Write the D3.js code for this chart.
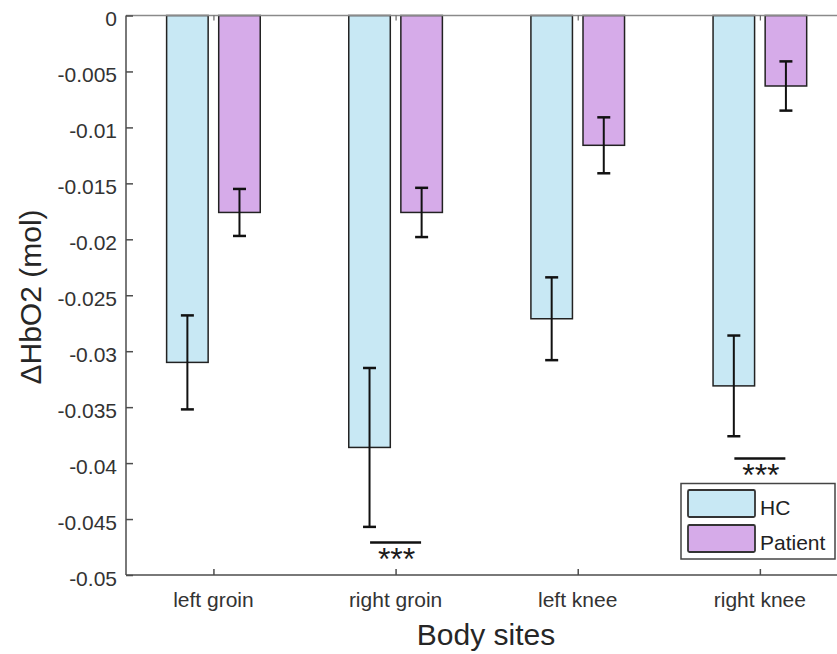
<!DOCTYPE html>
<html>
<head>
<meta charset="utf-8">
<script src="https://cdn.jsdelivr.net/npm/d3@7"></script>
<style>
  html, body { margin: 0; padding: 0; background: #fff; }
  svg { display: block; font-family: "Liberation Sans", Arial, Helvetica, sans-serif; }
</style>
</head>
<body>
<svg id="chart" width="837" height="654"></svg>
<script>
// Oxyhaemoglobin change per body site, healthy controls vs patients (mean ± SE)
const categories = ["left groin", "right groin", "left knee", "right knee"];
const seriesNames = ["HC", "Patient"];
const hcMean = [-0.0310, -0.0386, -0.0271, -0.0331];
const hcErr = [0.0042, 0.0071, 0.0037, 0.0045];
const patientMean = [-0.0176, -0.0176, -0.0116, -0.0063];
const patientErr = [0.0021, 0.0022, 0.0025, 0.0022];
const yTicks = [0, -0.005, -0.01, -0.015, -0.02, -0.025, -0.03, -0.035, -0.04, -0.045, -0.05];
const yTickLabels = ["0", "-0.005", "-0.01", "-0.015", "-0.02", "-0.025", "-0.03", "-0.035", "-0.04", "-0.045", "-0.05"];
// significance brackets: category index, vertical position, label
const sigSites = [1, 3];
const sigLevel = [-0.0471, -0.0396];
const sigText = ["***", "***"];

const colors = ["#c8e8f4", "#d6abe9"];
const series = [
  { name: seriesNames[0], mean: hcMean, err: hcErr, offset: -0.143, color: colors[0] },
  { name: seriesNames[1], mean: patientMean, err: patientErr, offset: 0.143, color: colors[1] }
];

const svg = d3.select("#chart");
const mLeft = 126, mTop = 15.5, mBottom = 575, mRight = 847.3;

const x = d3.scaleLinear().domain([0.52, 4.48]).range([mLeft, mRight]);
const y = d3.scaleLinear().domain([-0.05, 0]).range([mBottom, mTop]);
const barW = 0.228;

const plot = svg.append("g");

// bars
series.forEach(s => {
  plot.append("g").selectAll("rect")
    .data(s.mean)
    .join("rect")
    .attr("x", (d, i) => x(i + 1 + s.offset - barW / 2))
    .attr("width", x(1 + barW) - x(1))
    .attr("y", y(0))
    .attr("height", d => y(d) - y(0))
    .attr("fill", s.color)
    .attr("stroke", "#222")
    .attr("stroke-width", 1.5);
});

// error bars
series.forEach(s => {
  const g = plot.append("g").attr("stroke", "#111").attr("stroke-width", 2).attr("fill", "none");
  s.mean.forEach((m, i) => {
    const cx = x(i + 1 + s.offset);
    const y1 = y(m + s.err[i]), y2 = y(m - s.err[i]);
    g.append("line").attr("x1", cx).attr("x2", cx).attr("y1", y1).attr("y2", y2);
    g.append("line").attr("x1", cx - 6.5).attr("x2", cx + 6.5).attr("y1", y1).attr("y2", y1).attr("stroke-width", 2.5);
    g.append("line").attr("x1", cx - 6.5).attr("x2", cx + 6.5).attr("y1", y2).attr("y2", y2).attr("stroke-width", 2.5);
  });
});

// significance markers
sigSites.forEach((c, k) => {
  const cx = x(c + 1);
  plot.append("line")
    .attr("x1", x(c + 1 - 0.14)).attr("x2", x(c + 1 + 0.14))
    .attr("y1", y(sigLevel[k])).attr("y2", y(sigLevel[k]))
    .attr("stroke", "#111").attr("stroke-width", 2.5);
  plot.append("text")
    .attr("x", cx + 1).attr("y", y(sigLevel[k]) + 27)
    .attr("text-anchor", "middle")
    .attr("font-size", 32)
    .attr("fill", "#1a1a1a")
    .text(sigText[k]);
});

// axes frame
const axisColor = "#4d4d4d";
svg.append("line").attr("x1", mLeft).attr("x2", mRight).attr("y1", mTop).attr("y2", mTop)
  .attr("stroke", "#8a8a8a").attr("stroke-width", 1.5);

const yAxis = d3.axisRight(y).tickValues(yTicks).tickSize(7).tickFormat("");
const gy = svg.append("g").attr("transform", `translate(${mLeft},0)`).call(yAxis);
gy.select(".domain").remove();
gy.selectAll(".tick line").attr("stroke", axisColor).attr("stroke-width", 1.5);
svg.append("line").attr("x1", mLeft).attr("x2", mLeft).attr("y1", mTop).attr("y2", mBottom)
  .attr("stroke", axisColor).attr("stroke-width", 1.5);

// y tick labels
svg.append("g").selectAll("text")
  .data(yTicks)
  .join("text")
  .attr("x", 117)
  .attr("y", d => y(d) + 10.5)
  .attr("text-anchor", "end")
  .attr("font-size", 21)
  .attr("fill", "#333")
  .text((d, i) => yTickLabels[i]);

// x axis
const xAxis = d3.axisTop(x).tickValues([1, 2, 3, 4]).tickSize(6).tickFormat("");
const gx = svg.append("g").attr("transform", `translate(0,${mBottom})`).call(xAxis);
gx.select(".domain").remove();
gx.selectAll(".tick line").attr("stroke", axisColor).attr("stroke-width", 1.5);
svg.append("line").attr("x1", mLeft).attr("x2", mRight).attr("y1", mBottom).attr("y2", mBottom)
  .attr("stroke", axisColor).attr("stroke-width", 1.5);

// top ticks
const xTop = d3.axisBottom(x).tickValues([1, 2, 3, 4]).tickSize(5).tickFormat("");
const gxt = svg.append("g").attr("transform", `translate(0,${mTop})`).call(xTop);
gxt.select(".domain").remove();
gxt.selectAll(".tick line").attr("stroke", "#666").attr("stroke-width", 1.2);

// category labels
svg.append("g").selectAll("text")
  .data(categories)
  .join("text")
  .attr("x", (d, i) => x(i + 1))
  .attr("y", 607)
  .attr("text-anchor", "middle")
  .attr("font-size", 21)
  .attr("fill", "#333")
  .text(d => d);

// axis titles
svg.append("text")
  .attr("x", 486).attr("y", 645)
  .attr("text-anchor", "middle")
  .attr("font-size", 30)
  .attr("fill", "#262626")
  .text("Body sites");

svg.append("text")
  .attr("transform", "translate(41,297) rotate(-90)")
  .attr("text-anchor", "middle")
  .attr("font-size", 30)
  .attr("fill", "#262626")
  .text("ΔHbO2 (mol)");

// legend
const lg = svg.append("g");
lg.append("rect").attr("x", 681).attr("y", 483.5).attr("width", 154).attr("height", 75.5)
  .attr("fill", "#fff").attr("stroke", "#444").attr("stroke-width", 1.5);
series.forEach((s, i) => {
  const sy = 490 + i * 35;
  lg.append("rect").attr("x", 688).attr("y", sy).attr("width", 67).attr("height", 27)
    .attr("rx", 1.5)
    .attr("fill", s.color).attr("stroke", "#333").attr("stroke-width", 1.8);
  lg.append("text").attr("x", 760).attr("y", sy + 25)
    .attr("font-size", 21).attr("fill", "#222")
    .text(s.name);
});
</script>
</body>
</html>
